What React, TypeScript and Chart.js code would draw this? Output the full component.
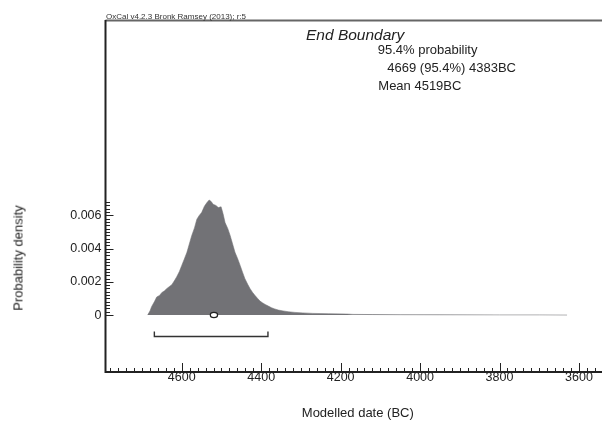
import React, { useEffect, useRef } from "react";
import { Chart, registerables } from "chart.js";

Chart.register(...registerables);

// ---- data ----
const years = [
  4686, 4680, 4676, 4669, 4663, 4656, 4650, 4644, 4638, 4631, 4625, 4619, 4613, 4606, 4600,
  4594, 4587, 4581, 4575, 4568, 4562, 4556, 4550, 4543, 4537, 4531, 4526, 4521, 4514, 4508,
  4501, 4496, 4491, 4484, 4478, 4472, 4466, 4459, 4453, 4447, 4441, 4434, 4428, 4422, 4416,
  4409, 4403, 4397, 4390, 4382, 4374, 4366, 4357, 4345, 4332, 4315, 4295, 4270, 4230, 4184,
  4169, 4120, 4050, 3950, 3800, 3700, 3630,
];
const density = [
  0, 0.00025, 0.0005, 0.0008, 0.00109, 0.00118, 0.00136, 0.00145, 0.00159, 0.00172, 0.00183,
  0.00205, 0.00229, 0.00262, 0.00299, 0.00335, 0.00378, 0.00428, 0.00478, 0.00525, 0.00577,
  0.006, 0.00617, 0.00655, 0.00676, 0.00693, 0.00684, 0.00667, 0.0066, 0.00647, 0.00652,
  0.0061, 0.00557, 0.0052, 0.00478, 0.00428, 0.00378, 0.00338, 0.00299, 0.00258, 0.00219,
  0.00185, 0.00159, 0.00137, 0.00119, 0.001, 0.00084, 0.00074, 0.00064, 0.00054, 0.00044,
  0.00037, 0.0003, 0.00025, 0.0002, 0.00016, 0.00013, 0.0001, 0.00008, 0.00006, 0.00004,
  0.00003, 0.00002, 0.000015, 0.00001, 0.00001, 0,
];
const rangeFrom = 4669;
const rangeTo = 4383;
const meanYear = 4519;

const xTickValues = [4600, 4400, 4200, 4000, 3800, 3600];
const yTickValues = [0, 0.002, 0.004, 0.006];
const xMinorStep = 20;
const yMinorStep = 0.0002;
const yMinorMax = 0.0068;

const xMin = 3542;
const xMax = 4792;
const yMin = -0.00343;
const yMax = 0.01777;

const FONT = '"Liberation Sans", Arial, Helvetica, sans-serif';
const INK = "#222";

const decorPlugin = {
  id: "oxcalDecor",
  afterDatasetsDraw(chart: any) {
    const { ctx, chartArea, scales } = chart;
    const xs = scales.x;
    const ys = scales.y;
    const y0 = ys.getPixelForValue(0);
    ctx.save();
    // range bracket
    ctx.strokeStyle = "#333";
    ctx.lineWidth = 1.4;
    const bx1 = xs.getPixelForValue(rangeFrom);
    const bx2 = xs.getPixelForValue(rangeTo);
    const by = y0 + 21.5;
    ctx.beginPath();
    ctx.moveTo(bx1, by - 5);
    ctx.lineTo(bx1, by);
    ctx.lineTo(bx2, by);
    ctx.lineTo(bx2, by - 5);
    ctx.stroke();
    // mean marker
    const mx = xs.getPixelForValue(meanYear);
    ctx.beginPath();
    ctx.ellipse(mx, y0, 3.6, 2.6, 0, 0, Math.PI * 2);
    ctx.fillStyle = "#fff";
    ctx.fill();
    ctx.lineWidth = 1.3;
    ctx.strokeStyle = INK;
    ctx.stroke();
    ctx.restore();
  },
  afterDraw(chart: any) {
    const { ctx, chartArea, scales } = chart;
    const xs = scales.x;
    const ys = scales.y;
    const { left, top, right, bottom } = chartArea;
    ctx.save();
    // top frame
    ctx.strokeStyle = "#666";
    ctx.lineWidth = 2;
    ctx.beginPath();
    ctx.moveTo(left, top + 0.5);
    ctx.lineTo(right, top + 0.5);
    ctx.stroke();
    // axes
    ctx.strokeStyle = INK;
    ctx.lineWidth = 2;
    ctx.beginPath();
    ctx.moveTo(left, top);
    ctx.lineTo(left, bottom);
    ctx.lineTo(right, bottom);
    ctx.stroke();
    // x ticks (inward)
    ctx.lineWidth = 1;
    ctx.beginPath();
    const start = Math.ceil(xMin / xMinorStep) * xMinorStep;
    for (let yr = start; yr <= xMax; yr += xMinorStep) {
      const px = Math.round(xs.getPixelForValue(yr)) + 0.5;
      if (px < left + 2 || px > right) continue;
      const len = yr % 200 === 0 ? 9 : 4;
      ctx.moveTo(px, bottom);
      ctx.lineTo(px, bottom - len);
    }
    // y ticks (inward)
    const n = Math.round(yMinorMax / yMinorStep);
    for (let i = 0; i <= n; i++) {
      const v = i * yMinorStep;
      const py = Math.round(ys.getPixelForValue(v)) + 0.5;
      const len = i % 10 === 0 ? 8 : 4.5;
      ctx.moveTo(left, py);
      ctx.lineTo(left + len, py);
    }
    ctx.stroke();
    ctx.restore();
  },
};

function App() {
  const canvasRef = useRef<HTMLCanvasElement | null>(null);

  useEffect(() => {
    const canvas = canvasRef.current;
    if (!canvas) return;
    const points = years.map((x, i) => ({ x, y: density[i] }));
    const chart = new Chart(canvas, {
      type: "line",
      data: {
        datasets: [
          {
            data: points,
            fill: "origin",
            backgroundColor: "rgb(114,114,118)",
            borderColor: "rgba(114,114,118,0.55)",
            borderWidth: 1,
            pointRadius: 0,
            tension: 0,
          },
        ],
      },
      options: {
        animation: false,
        responsive: false,
        devicePixelRatio: 1,
        layout: { padding: { top: 20, right: 0, left: 0, bottom: 0 } },
        plugins: {
          legend: { display: false },
          tooltip: { enabled: false },
          title: { display: false },
        },
        scales: {
          x: {
            type: "linear",
            reverse: true,
            min: xMin,
            max: xMax,
            grid: { display: false, drawTicks: false },
            border: { display: false },
            afterBuildTicks: (scale: any) => {
              scale.ticks = xTickValues.map((v) => ({ value: v }));
            },
            afterFit: (scale: any) => {
              scale.height = 50;
            },
            ticks: {
              padding: -1,
              maxRotation: 0,
              autoSkip: false,
              color: INK,
              font: { family: FONT, size: 12.5, lineHeight: 1 },
              callback: (v: any) => String(v),
            },
          },
          y: {
            type: "linear",
            min: yMin,
            max: yMax,
            grid: { display: false, drawTicks: false },
            border: { display: false },
            afterBuildTicks: (scale: any) => {
              scale.ticks = yTickValues.map((v) => ({ value: v }));
            },
            afterFit: (scale: any) => {
              scale.width = 105.5;
            },
            ticks: {
              padding: 4,
              autoSkip: false,
              color: INK,
              font: { family: FONT, size: 12.5 },
              callback: (v: any) => (v === 0 ? "0" : Number(v).toFixed(3)),
            },
          },
        },
      },
      plugins: [decorPlugin],
    } as any);
    return () => chart.destroy();
  }, []);

  const txt = (size: number, extra: React.CSSProperties = {}): React.CSSProperties => ({
    position: "absolute",
    fontFamily: FONT,
    fontSize: size,
    lineHeight: `${size}px`,
    color: INK,
    whiteSpace: "nowrap",
    ...extra,
  });

  return (
    <div
      style={{
        position: "fixed",
        left: 0,
        top: 0,
        width: 602,
        height: 422,
        background: "#fff",
        overflow: "hidden",
      }}
    >
      <canvas ref={canvasRef} width={602} height={422} style={{ display: "block" }} />
      <div style={txt(8, { left: 106, top: 12.7, color: "#333" })}>
        OxCal v4.2.3 Bronk Ramsey (2013); r:5
      </div>
      <div style={txt(15.5, { left: 306, top: 27.4, fontStyle: "italic" })}>End Boundary</div>
      <div style={txt(13, { left: 377.7, top: 43.3 })}>95.4% probability</div>
      <div style={txt(13, { left: 387.3, top: 60.7 })}>4669 (95.4%) 4383BC</div>
      <div style={txt(13, { left: 378.3, top: 79 })}>Mean 4519BC</div>
      <div style={txt(13, { left: 357.8, top: 406, transform: "translateX(-50%)" })}>
        Modelled date (BC)
      </div>
      <div
        style={txt(13, {
          left: 18.3,
          top: 257.5,
          transform: "translate(-50%, -50%) rotate(-90deg)",
        })}
      >
        Probability density
      </div>
    </div>
  );
}

export default App;
